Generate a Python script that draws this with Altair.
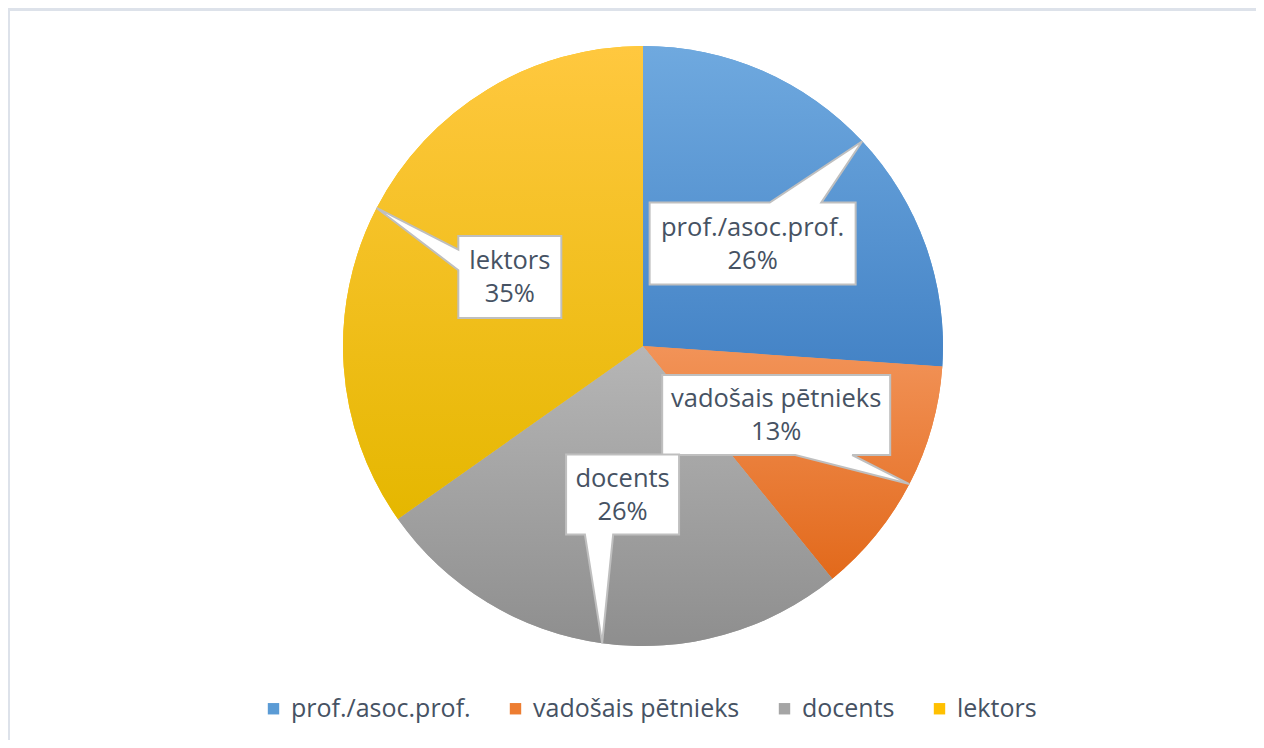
import altair as alt
import pandas as pd

# ---- data ----
categories = ["prof./asoc.prof.", "vadošais pētnieks", "docents", "lektors"]
values = [6, 3, 6, 8]

# ---- styles / layout (not data) ----
solid_colors = ["#5B9BD5", "#ED7D31", "#A5A5A5", "#FFC000"]
grad_top = ["#6FA9DF", "#F29358", "#B6B6B6", "#FFC83F"]
grad_bottom = ["#4483C6", "#E2691B", "#8E8E8E", "#E5B700"]
box_w = [206, 228, 113, 103]
box_h = [82, 80, 80, 82]

W, H = 1248, 732          # view size
CX, CY = 635, 338         # pie centre inside the view
R = 300                   # pie radius
LR = 150                  # label radius
TEXT = "#465263"
FONT = "Open Sans"

df = pd.DataFrame({
    "category": categories,
    "value": values,
    "order": list(range(len(categories))),
    "bw": box_w,
    "bh": box_h,
})

xs = alt.Scale(domain=[-CX, W - CX], range=[0, W])
ys = alt.Scale(domain=[-CY, H - CY], range=[0, H])

center = dict(
    x=alt.X(datum=0, type="quantitative", scale=xs, axis=None),
    y=alt.Y(datum=0, type="quantitative", scale=ys, axis=None),
)


def grad(top, bot):
    return {
        "gradient": "linear", "x1": 0, "y1": 0, "x2": 0, "y2": 1,
        "stops": [{"offset": 0, "color": top}, {"offset": 1, "color": bot}],
    }


pie_base = alt.Chart(df).mark_arc(radius=R).encode(
    theta=alt.Theta("value:Q", stack=True),
    order=alt.Order("order:Q"),
    color=alt.Color(
        "category:N",
        sort=categories,
        scale=alt.Scale(domain=categories, range=solid_colors),
        legend=alt.Legend(
            orient="none",
            legendX=253,
            legendY=688,
            direction="horizontal",
            title=None,
            symbolType="square",
            symbolSize=130,
            symbolStrokeWidth=0,
            labelFont=FONT,
            labelFontSize=25,
            labelColor=TEXT,
            labelOffset=5,
            labelLimit=500,
            columnPadding=32,
            padding=0,
        ),
    ),
    **center,
)

conds = [
    {"test": f"datum.category === '{c}'", "value": grad(t, b)}
    for c, t, b in zip(categories[:-1], grad_top[:-1], grad_bottom[:-1])
]
pie_grad = alt.Chart(df).mark_arc(radius=R).encode(
    theta=alt.Theta("value:Q", stack=True),
    order=alt.Order("order:Q"),
    fill=alt.FillValue(condition=conds, value=grad(grad_top[-1], grad_bottom[-1])),
    **center,
)

callout_calc = (
    alt.Chart(df)
    .transform_joinaggregate(total="sum(value)")
    .transform_window(cum="sum(value)", sort=[alt.SortField("order")], frame=[None, 0])
    .transform_calculate(
        mid="(datum.cum - datum.value / 2) / datum.total * 2 * PI",
        pct="format(datum.value / datum.total, '.0%')",
    )
    .transform_calculate(
        lx=f"{LR} * sin(datum.mid)",
        ly=f"-{LR} * cos(datum.mid)",
    )
    .transform_calculate(
        dx=f"{R} * sin(datum.mid) - datum.lx",
        dy=f"-{R} * cos(datum.mid) - datum.ly",
        hw="datum.bw / 2",
        hh="datum.bh / 2",
        label="datum.category + '\\n' + datum.pct",
    )
    .transform_calculate(
        side="abs(datum.dx * datum.bh / datum.bw) <= abs(datum.dy) ? (datum.dy < 0 ? 'T' : 'B') : (datum.dx < 0 ? 'L' : 'R')",
        px1="-datum.hw + (datum.dx > 0 ? 7 : 2) * datum.bw / 12",
        px2="-datum.hw + (datum.dx > 0 ? 10 : 5) * datum.bw / 12",
        py1="-datum.hh + (datum.dy > 0 ? 7 : 2) * datum.bh / 12",
        py2="-datum.hh + (datum.dy > 0 ? 10 : 5) * datum.bh / 12",
        tip="'L' + datum.dx + ',' + datum.dy",
    )
    .transform_calculate(
        path=(
            "'M' + (-datum.hw) + ',' + (-datum.hh)"
            " + (datum.side == 'T' ? 'L' + datum.px1 + ',' + (-datum.hh) + datum.tip + 'L' + datum.px2 + ',' + (-datum.hh) : '')"
            " + 'L' + datum.hw + ',' + (-datum.hh)"
            " + (datum.side == 'R' ? 'L' + datum.hw + ',' + datum.py1 + datum.tip + 'L' + datum.hw + ',' + datum.py2 : '')"
            " + 'L' + datum.hw + ',' + datum.hh"
            " + (datum.side == 'B' ? 'L' + datum.px2 + ',' + datum.hh + datum.tip + 'L' + datum.px1 + ',' + datum.hh : '')"
            " + 'L' + (-datum.hw) + ',' + datum.hh"
            " + (datum.side == 'L' ? 'L' + (-datum.hw) + ',' + datum.py2 + datum.tip + 'L' + (-datum.hw) + ',' + datum.py1 : '')"
            " + 'Z'"
        )
    )
)

boxes = callout_calc.mark_point(
    filled=True, fill="white", stroke="#BFBFBF", strokeWidth=2, size=4, opacity=1
).encode(
    x=alt.X("lx:Q", scale=xs, axis=None),
    y=alt.Y("ly:Q", scale=ys, axis=None),
    shape=alt.Shape("path:N", scale=None),
)

labels = callout_calc.mark_text(
    font=FONT, fontSize=25.5, color=TEXT, lineBreak="\n", lineHeight=33,
    align="center", baseline="middle", dy=-16,
).encode(
    x=alt.X("lx:Q", scale=xs, axis=None),
    y=alt.Y("ly:Q", scale=ys, axis=None),
    text="label:N",
)

frame_df = pd.DataFrame({"k": [0]})
top_rule = alt.Chart(frame_df).mark_rule(color="#DDE2EA", strokeWidth=3).encode(
    x=alt.value(0), x2=alt.value(W), y=alt.value(1.5)
)
left_rule = alt.Chart(frame_df).mark_rule(color="#DDE2EA", strokeWidth=3).encode(
    x=alt.value(0.5), y=alt.value(0), y2=alt.value(H)
)

chart = (
    alt.layer(pie_base, pie_grad, boxes, labels, top_rule, left_rule)
    .properties(width=W, height=H, autosize=alt.AutoSizeParams(type="none"), padding=0)
    .configure_view(stroke=None)
    .configure(background="white")
)

chart.save("out.html", embed_options={"renderer": "svg", "actions": False})
